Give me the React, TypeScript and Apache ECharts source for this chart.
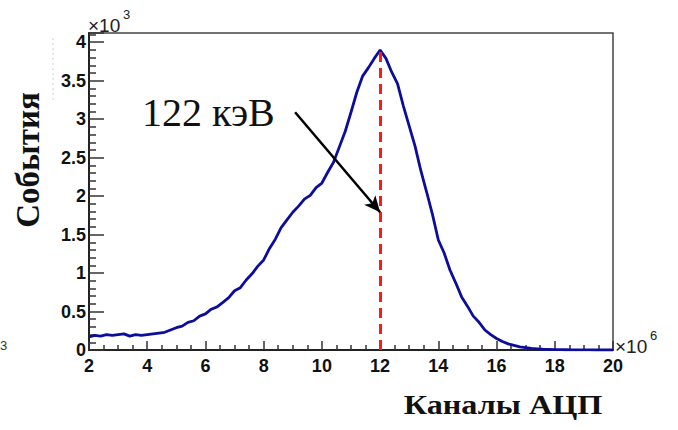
import React, { useEffect, useRef } from "react";
import * as echarts from "echarts";

// Histogram: ADC channels (x10^6), bin width 0.2, first bin at 2.0
const binStart = 2;
const binWidth = 0.2;
// Events (x10^3)
const counts = [
  0.17, 0.19, 0.18, 0.2, 0.19, 0.2, 0.21, 0.18, 0.2, 0.19,
  0.2, 0.21, 0.22, 0.23, 0.26, 0.29, 0.31, 0.36, 0.38, 0.44,
  0.47, 0.53, 0.56, 0.62, 0.68, 0.77, 0.81, 0.91, 0.99, 1.09,
  1.17, 1.32, 1.44, 1.59, 1.69, 1.79, 1.87, 1.96, 2.01, 2.11,
  2.17, 2.31, 2.44, 2.64, 2.84, 3.09, 3.35, 3.56, 3.67, 3.79,
  3.9, 3.79, 3.61, 3.46, 3.17, 2.91, 2.65, 2.33, 2.05, 1.76,
  1.43, 1.26, 1.04, 0.87, 0.69, 0.57, 0.44, 0.36, 0.26, 0.2,
  0.15, 0.11, 0.08, 0.06, 0.04, 0.03, 0.02, 0.015, 0.01, 0.008,
  0.005, 0.004, 0.003, 0.002, 0.002, 0.001, 0.001, 0.0, 0.0, 0.0,
  0.0,
];
const xRange = [2, 20];
const yRange = [0, 4.12];
const peakChannel = 12;
const peakCount = 3.88;
const arrowFrom = [9.08, 3.09];
const arrowTo = [12.0, 1.79];
const annotation = "122 кэВ";
const yTitle = "События";
const xTitle = "Каналы АЦП";

export default function App() {
  const ref = useRef<HTMLDivElement>(null);
  useEffect(() => {
    if (!ref.current) return;
    const chart = echarts.init(ref.current, null, { renderer: "svg" });
    const data = counts.map((c, i) => [binStart + i * binWidth, c]);
    const tickFont = {
      fontFamily: "Liberation Sans",
      fontWeight: "bold" as const,
      fontSize: 18,
      color: "#111",
    };
    const sans = (size: number, weight: string) => ({
      fontFamily: "Liberation Sans",
      fontSize: size,
      fontWeight: weight,
      fill: "#222",
    });
    chart.setOption({
      animation: false,
      backgroundColor: "#fff",
      grid: {
        left: 89,
        right: 65,
        top: 33,
        bottom: 80,
        show: true,
        borderColor: "#444",
        borderWidth: 1.5,
        backgroundColor: "transparent",
      },
      xAxis: {
        type: "value",
        min: xRange[0],
        max: xRange[1],
        interval: 2,
        axisLine: { show: true, lineStyle: { color: "#222", width: 2 } },
        axisTick: { show: true, inside: true, length: 9, lineStyle: { color: "#333", width: 1.5 } },
        minorTick: { show: true, splitNumber: 4, length: 5, lineStyle: { color: "#333", width: 1.5 } },
        splitLine: { show: false },
        axisLabel: { ...tickFont, margin: 7 },
      },
      yAxis: {
        type: "value",
        min: yRange[0],
        max: yRange[1],
        interval: 0.5,
        axisLine: { show: true, lineStyle: { color: "#222", width: 2 } },
        axisTick: { show: true, inside: true, length: 15, lineStyle: { color: "#333", width: 1.5 } },
        minorTick: { show: true, splitNumber: 5, length: 7, lineStyle: { color: "#333", width: 1.5 } },
        splitLine: { show: false },
        axisLabel: { ...tickFont, margin: 3, showMaxLabel: false },
      },
      series: [
        {
          type: "line",
          data,
          showSymbol: false,
          silent: true,
          lineStyle: { color: "#0d0d9c", width: 2.8 },
          markLine: {
            silent: true,
            animation: false,
            label: { show: false },
            symbol: ["none", "none"],
            data: [
              [
                { coord: [peakChannel, 0], symbol: "none", lineStyle: { color: "#ff1a1a", width: 3, type: [10, 6] } },
                { coord: [peakChannel, peakCount], symbol: "none" },
              ],
              [
                { coord: arrowFrom, symbol: "none", lineStyle: { color: "#000", width: 2.5, type: "solid" } },
                { coord: arrowTo, symbol: "arrow", symbolSize: [11, 16] },
              ],
            ],
          },
        },
      ],
      graphic: [
        {
          type: "text",
          left: 142,
          top: 92,
          style: { text: annotation, fontFamily: "Liberation Serif", fontSize: 40, fill: "#111" },
        },
        {
          type: "text",
          x: 28,
          y: 160,
          rotation: Math.PI / 2,
          style: {
            text: yTitle,
            fontFamily: "Liberation Serif",
            fontWeight: "bold",
            fontSize: 33,
            fill: "#111",
            align: "center",
            verticalAlign: "middle",
          },
        },
        {
          type: "text",
          x: 503,
          y: 405,
          scaleX: 1.15,
          style: {
            text: xTitle,
            fontFamily: "Liberation Serif",
            fontWeight: "bold",
            fontSize: 28,
            fill: "#111",
            align: "center",
            verticalAlign: "middle",
          },
        },
        { type: "text", x: 88, y: 25, style: { text: "×10", ...sans(19, "normal"), verticalAlign: "middle" } },
        { type: "text", x: 123, y: 14, style: { text: "3", ...sans(13, "normal"), verticalAlign: "middle" } },
        { type: "text", x: 615, y: 346, style: { text: "×10", ...sans(19, "normal"), verticalAlign: "middle" } },
        { type: "text", x: 650, y: 335, style: { text: "6", ...sans(13, "normal"), verticalAlign: "middle" } },
        { type: "text", x: 0, y: 345, style: { text: "3", ...sans(13, "normal"), fill: "#333", verticalAlign: "middle" } },
        { type: "line", shape: { x1: 53, y1: 38, x2: 53, y2: 100 }, style: { stroke: "#ccc", lineWidth: 1, lineDash: [2, 3] } },
      ],
    });
    return () => chart.dispose();
  }, []);
  return <div ref={ref} style={{ position: "fixed", left: 0, top: 0, width: 678, height: 430 }} />;
}
